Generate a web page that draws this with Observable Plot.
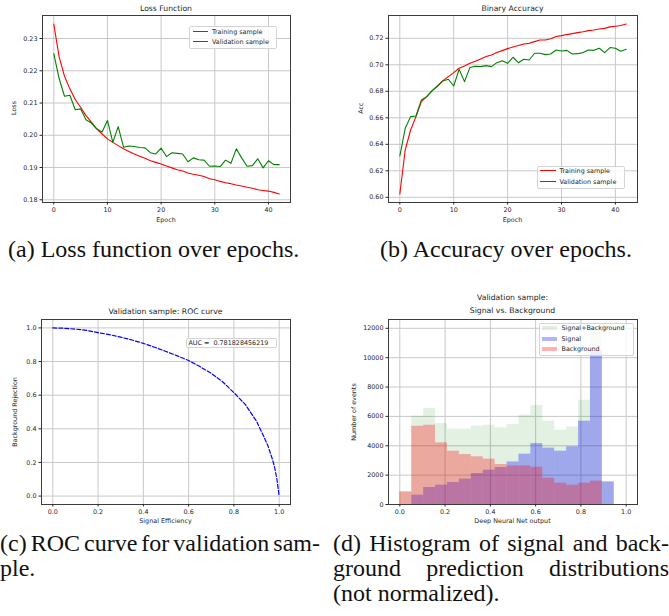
<!DOCTYPE html>
<html>
<head>
<meta charset="utf-8">
<script src="https://cdn.jsdelivr.net/npm/d3@7"></script>
<script src="https://cdn.jsdelivr.net/npm/@observablehq/plot@0.6"></script>
<style>
  body { margin: 0; background: #fff; }
  #fig { position: relative; width: 669px; height: 616px; overflow: hidden; background: #fff; }
  .lbl { position: absolute; white-space: pre; line-height: 1; font-family: "DejaVu Sans", sans-serif; color: #262626; }
  .legend { position: absolute; box-sizing: border-box; background: rgba(255,255,255,0.8); border: 1px solid #d4d4d4; border-radius: 2px; }
  .legend .sw { position: absolute; }
  .legend .tx { position: absolute; white-space: pre; line-height: 1; font: 6.4px "DejaVu Sans", sans-serif; color: #262626; transform: translateY(-50%); }
  .cap { position: absolute; font-family: "Liberation Serif", serif; font-size: 24px; line-height: 25px; color: #111; white-space: nowrap; }
  .cap.just { display: flex; justify-content: space-between; }
</style>
</head>
<body>
<div id="fig"></div>
<script>
// ---- training history: one value per epoch ----
const epochs = d3.range(43);
const trainLoss = [0.2345, 0.2243, 0.2183, 0.2144, 0.2111, 0.2087, 0.2061, 0.2041, 0.2020, 0.2004, 0.1989, 0.1978, 0.1968, 0.1958, 0.1950, 0.1942, 0.1935, 0.1929, 0.1921, 0.1916, 0.1911, 0.1905, 0.1899, 0.1893, 0.1889, 0.1883, 0.1879, 0.1876, 0.1872, 0.1865, 0.1862, 0.1857, 0.1853, 0.1850, 0.1846, 0.1843, 0.1839, 0.1836, 0.1831, 0.1829, 0.1827, 0.1823, 0.1818];
const valLoss = [0.2253, 0.2176, 0.2121, 0.2124, 0.2079, 0.2082, 0.2048, 0.2038, 0.2020, 0.2010, 0.2046, 0.1978, 0.2027, 0.1963, 0.1967, 0.1965, 0.1962, 0.1961, 0.1946, 0.1942, 0.1960, 0.1934, 0.1946, 0.1944, 0.1942, 0.1918, 0.1930, 0.1924, 0.1923, 0.1904, 0.1905, 0.1903, 0.1923, 0.1913, 0.1958, 0.1930, 0.1904, 0.1906, 0.1927, 0.1899, 0.1921, 0.1909, 0.1909];
const trainAcc = [0.6025, 0.6357, 0.6508, 0.6609, 0.6722, 0.6760, 0.6805, 0.6840, 0.6881, 0.6911, 0.6941, 0.6974, 0.6991, 0.7011, 0.7026, 0.7044, 0.7062, 0.7074, 0.7092, 0.7107, 0.7122, 0.7135, 0.7145, 0.7157, 0.7162, 0.7175, 0.7187, 0.7187, 0.7197, 0.7213, 0.7220, 0.7228, 0.7235, 0.7243, 0.7250, 0.7258, 0.7263, 0.7270, 0.7275, 0.7286, 0.7291, 0.7296, 0.7308];
const valAcc = [0.6312, 0.6521, 0.6609, 0.6614, 0.6735, 0.6760, 0.6805, 0.6840, 0.6878, 0.6891, 0.6840, 0.6966, 0.6873, 0.6979, 0.6989, 0.6986, 0.6994, 0.6986, 0.7016, 0.7031, 0.7011, 0.7057, 0.7016, 0.7042, 0.7036, 0.7087, 0.7087, 0.7077, 0.7082, 0.7112, 0.7104, 0.7109, 0.7082, 0.7084, 0.7092, 0.7112, 0.7109, 0.7125, 0.7092, 0.7130, 0.7125, 0.7102, 0.7117];

// ---- ROC curve on the validation sample ----
const rocEfficiency = [0, 0.05, 0.10, 0.15, 0.20, 0.25, 0.30, 0.35, 0.40, 0.45, 0.50, 0.55, 0.60, 0.65, 0.70, 0.75, 0.80, 0.85, 0.90, 0.93, 0.95, 0.97, 0.98, 0.99, 1.0];
const rocRejection = [1.0, 0.998, 0.993, 0.985, 0.972, 0.960, 0.945, 0.928, 0.908, 0.885, 0.860, 0.834, 0.806, 0.770, 0.730, 0.680, 0.615, 0.545, 0.445, 0.360, 0.300, 0.220, 0.170, 0.100, 0.0];
const aucLabel = "AUC =  0.781828456219";

// ---- network output histograms: 19 equal-width bins spanning [0, 1] ----
const binEdges = d3.range(20).map(i => i / 19);
const binLo = binEdges.slice(0, -1);
const binHi = binEdges.slice(1);
const sigBkgCounts = [862, 6015, 6540, 5515, 5130, 5130, 5335, 5400, 5220, 5450, 6080, 6740, 5675, 5060, 5290, 7100, 12000, 1540, 0];
const signalCounts = [0, 640, 1160, 1320, 1500, 1730, 2110, 2340, 2520, 2900, 3430, 4150, 3840, 3630, 3930, 5675, 10450, 1540, 0];
const backgroundCounts = [862, 5330, 5400, 4200, 3630, 3400, 3250, 3090, 2720, 2630, 2630, 2540, 1790, 1450, 1320, 1450, 1590, 0, 0];

// ---- tick values ----
const epochTicks = [0, 10, 20, 30, 40];
const lossTicks = [0.18, 0.19, 0.20, 0.21, 0.22, 0.23];
const accTicks = [0.60, 0.62, 0.64, 0.66, 0.68, 0.70, 0.72];
const unitTicks = [0, 0.2, 0.4, 0.6, 0.8, 1.0];
const countTicks = [0, 2000, 4000, 6000, 8000, 10000, 12000];

const fig = document.getElementById("fig");
const gridColor = "#c8c8c8";
const ink = "#262626";

function panel({left, top, width, height, margin, xDomain, yDomain, xTicks, yTicks, xFormat, yFormat, marks}) {
  const svg = Plot.plot({
    width, height,
    marginLeft: margin[0], marginRight: margin[1], marginTop: margin[2], marginBottom: margin[3],
    style: {fontFamily: "DejaVu Sans, sans-serif", fontSize: "6.4px", color: ink, background: "none", overflow: "visible"},
    x: {domain: xDomain, label: null},
    y: {domain: yDomain, label: null},
    marks: [
      Plot.gridX(xTicks, {stroke: gridColor, strokeOpacity: 1, strokeWidth: 1}),
      Plot.gridY(yTicks, {stroke: gridColor, strokeOpacity: 1, strokeWidth: 1}),
      ...marks,
      Plot.frame({stroke: "#3c3c3c", strokeWidth: 1}),
      Plot.axisX(xTicks, {tickSize: 2.5, tickPadding: 2.5, tickFormat: xFormat, label: null}),
      Plot.axisY(yTicks, {tickSize: 2.5, tickPadding: 2.5, tickFormat: yFormat, label: null})
    ]
  });
  svg.style.position = "absolute";
  svg.style.left = left + "px";
  svg.style.top = top + "px";
  fig.appendChild(svg);
}

function label(str, cx, cy, size = 6.4, rotate = false) {
  const d = document.createElement("div");
  d.className = "lbl";
  d.textContent = str;
  d.style.fontSize = size + "px";
  d.style.left = cx + "px";
  d.style.top = cy + "px";
  d.style.transform = "translate(-50%, -50%)" + (rotate ? " rotate(-90deg)" : "");
  fig.appendChild(d);
}

function legend({x, y, w, h, rows, swatchX, swatchW, textX, items}) {
  const box = document.createElement("div");
  box.className = "legend";
  Object.assign(box.style, {left: x + "px", top: y + "px", width: w + "px", height: h + "px"});
  items.forEach((it, i) => {
    const cy = rows[i] - y - 1;
    if (it.kind === "line") {
      const s = document.createElement("div");
      s.className = "sw";
      Object.assign(s.style, {left: (swatchX - x - 1) + "px", top: (cy - 0.6) + "px", width: swatchW + "px", height: "0px", borderTop: `1.2px solid ${it.color}`});
      box.appendChild(s);
    } else if (it.kind === "patch") {
      const s = document.createElement("div");
      s.className = "sw";
      Object.assign(s.style, {left: (swatchX - x - 1) + "px", top: (cy - 2.2) + "px", width: swatchW + "px", height: "4.4px", background: it.color});
      box.appendChild(s);
    }
    const t = document.createElement("div");
    t.className = "tx";
    t.textContent = it.label;
    Object.assign(t.style, {left: (textX - x - 1) + "px", top: cy + "px"});
    box.appendChild(t);
  });
  fig.appendChild(box);
}

function caption(words, left, cy, width) {
  const d = document.createElement("div");
  d.className = "cap" + (width ? " just" : "");
  d.style.left = left + "px";
  d.style.top = (cy - 14) + "px";
  if (width) {
    d.style.width = width + "px";
    words.split(" ").forEach(w => { const s = document.createElement("span"); s.textContent = w; d.appendChild(s); });
  } else {
    d.textContent = words;
  }
  fig.appendChild(d);
}

// (a) loss per epoch
panel({
  left: 0, top: 0, width: 300, height: 230, margin: [42, 10, 15, 28],
  xDomain: [-2.1, 44.1], yDomain: [0.17916, 0.23714],
  xTicks: epochTicks, yTicks: lossTicks, xFormat: "d", yFormat: ".2f",
  marks: [
    Plot.line(trainLoss, {x: epochs, y: trainLoss, stroke: "#ff0000", strokeWidth: 1.1}),
    Plot.line(valLoss, {x: epochs, y: valLoss, stroke: "#008000", strokeWidth: 1.1})
  ]
});
label("Loss Function", 166, 8.5, 7.7);
label("Epoch", 166, 220);
label("Loss", 14, 108, 6.4, true);
legend({x: 189, y: 26, w: 88, h: 22.5, rows: [31.7, 42], swatchX: 193, swatchW: 15, textX: 212,
  items: [{kind: "line", color: "#ff0000", label: "Training sample"}, {kind: "line", color: "#008000", label: "Validation sample"}]});

// (b) accuracy per epoch
panel({
  left: 330, top: 0, width: 320, height: 230, margin: [58, 13, 15, 28],
  xDomain: [-2.1, 44.1], yDomain: [0.5961, 0.7372],
  xTicks: epochTicks, yTicks: accTicks, xFormat: "d", yFormat: ".2f",
  marks: [
    Plot.line(trainAcc, {x: epochs, y: trainAcc, stroke: "#ff0000", strokeWidth: 1.1}),
    Plot.line(valAcc, {x: epochs, y: valAcc, stroke: "#008000", strokeWidth: 1.1})
  ]
});
label("Binary Accuracy", 512.5, 8.5, 7.7);
label("Epoch", 512.5, 220);
label("Acc", 360.5, 108, 6.4, true);
legend({x: 537, y: 166, w: 87.5, h: 22.5, rows: [171, 181.7], swatchX: 539.5, swatchW: 16, textX: 559.5,
  items: [{kind: "line", color: "#ff0000", label: "Training sample"}, {kind: "line", color: "#008000", label: "Validation sample"}]});

// (c) ROC curve
panel({
  left: 0, top: 288, width: 300, height: 242, margin: [41, 10, 31, 26],
  xDomain: [-0.05, 1.05], yDomain: [-0.05, 1.05],
  xTicks: unitTicks, yTicks: unitTicks, xFormat: ".1f", yFormat: ".1f",
  marks: [
    Plot.line(rocRejection, {x: rocEfficiency, y: rocRejection, stroke: "#0000ff", strokeWidth: 1.2, strokeDasharray: "4,2"})
  ]
});
label("Validation sample: ROC curve", 165.5, 312, 7.7);
label("Signal Efficiency", 165.5, 521);
label("Background Rejection", 15, 412, 6.4, true);
legend({x: 186, y: 337.5, w: 91, h: 10.5, rows: [342.5], swatchX: 186, swatchW: 0, textX: 188.5,
  items: [{kind: "none", color: "none", label: aucLabel}]});

// (d) signal / background output distributions
panel({
  left: 330, top: 288, width: 320, height: 242, margin: [58, 13, 31, 26],
  xDomain: [-0.05, 1.05], yDomain: [0, 12600],
  xTicks: unitTicks, yTicks: countTicks, xFormat: ".1f", yFormat: "d",
  marks: [
    Plot.rectY(sigBkgCounts, {x1: binLo, x2: binHi, y: sigBkgCounts, fill: "#008000", fillOpacity: 0.11}),
    Plot.rectY(signalCounts, {x1: binLo, x2: binHi, y: signalCounts, fill: "#0000ff", fillOpacity: 0.3}),
    Plot.rectY(backgroundCounts, {x1: binLo, x2: binHi, y: backgroundCounts, fill: "#ff0000", fillOpacity: 0.3})
  ]
});
label("Validation sample:", 512.5, 297.5, 7.7);
label("Signal vs. Background", 512.5, 310.5, 7.7);
label("Deep Neural Net output", 512.5, 521);
label("Number of events", 354, 412, 6.4, true);
legend({x: 539, y: 322.5, w: 94.5, h: 33.5, rows: [328, 338.7, 349.3], swatchX: 541.5, swatchW: 15, textX: 561.5,
  items: [
    {kind: "patch", color: "rgba(0,128,0,0.11)", label: "Signal+Background"},
    {kind: "patch", color: "rgba(0,0,255,0.3)", label: "Signal"},
    {kind: "patch", color: "rgba(255,0,0,0.3)", label: "Background"}
  ]});

// sub-figure captions
caption("(a) Loss function over epochs.", 8, 251);
caption("(b) Accuracy over epochs.", 380, 251);
caption("(c) ROC curve for validation sam-", 0, 545, 320);
caption("ple.", 0, 570);
caption("(d) Histogram of signal and back-", 333, 545, 336);
caption("ground prediction distributions", 333, 570, 336);
caption("(not normalized).", 333, 595);
</script>
</body>
</html>
